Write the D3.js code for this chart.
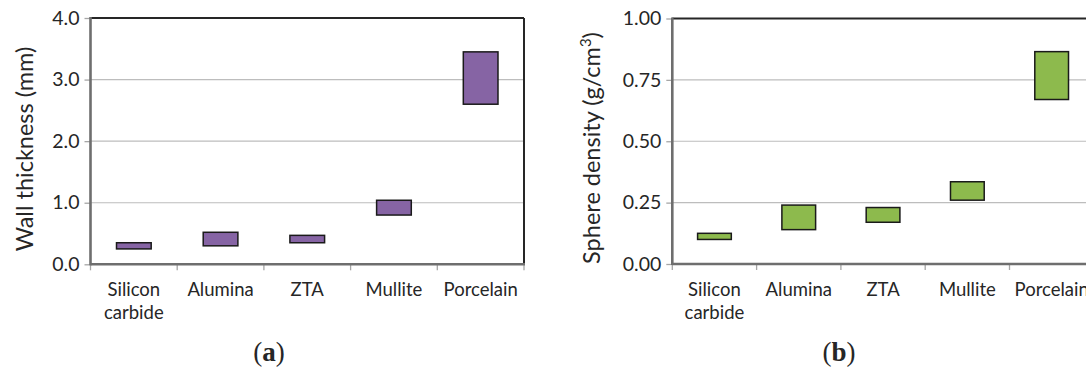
<!DOCTYPE html>
<html>
<head>
<meta charset="utf-8">
<script src="https://cdn.jsdelivr.net/npm/d3@7"></script>
<style>
  html, body { margin: 0; padding: 0; background: #fff; }
  svg { display: block; }
  text { font-family: Lato, "Open Sans", sans-serif; fill: #262626; }
</style>
</head>
<body>
<svg id="chart" width="1086" height="369"></svg>
<script>
// Ceramic sphere properties: ranges (min–max) per material
const categories = ["Silicon carbide", "Alumina", "ZTA", "Mullite", "Porcelain"];

// (a) wall thickness, mm
const wallMin = [0.25, 0.30, 0.35, 0.80, 2.60];
const wallMax = [0.35, 0.52, 0.47, 1.04, 3.45];
const wallTicks = [0, 1, 2, 3, 4];

// (b) sphere density, g/cm3
const densMin = [0.10, 0.14, 0.17, 0.26, 0.67];
const densMax = [0.125, 0.24, 0.23, 0.335, 0.865];
const densTicks = [0, 0.25, 0.5, 0.75, 1.0];

const svg = d3.select("#chart");

function drawPanel(opts) {
  const g = svg.append("g");
  const x = d3.scaleBand().domain(categories).range([opts.left, opts.right]).padding(0);
  const y = d3.scaleLinear().domain([0, opts.max]).range([opts.bottom, opts.top]);

  // gridlines
  g.append("g").selectAll("line").data(opts.ticks.slice(1)).join("line")
    .attr("x1", opts.left).attr("x2", opts.right)
    .attr("y1", d => y(d)).attr("y2", d => y(d))
    .attr("stroke", "#bdbdbd").attr("stroke-width", 1.2);

  // y axis ticks + labels
  const yAxis = g.append("g").attr("transform", `translate(${opts.left},0)`)
    .call(d3.axisLeft(y).tickValues(opts.ticks).tickFormat(d3.format(opts.fmt)).tickSize(6).tickPadding(5));
  yAxis.select(".domain").remove();
  yAxis.selectAll(".tick line").attr("stroke", "#a6a6a6").attr("stroke-width", 1.3);
  yAxis.selectAll(".tick text").attr("font-size", 19.5).attr("font-family", "Lato").attr("fill", "#262626");

  // category boundary ticks on x axis
  const bounds = categories.map(c => x(c)).concat([x.range()[1]]);
  g.append("g").selectAll("line").data(bounds).join("line")
    .attr("x1", d => d).attr("x2", d => d)
    .attr("y1", opts.bottom).attr("y2", opts.bottom + 6)
    .attr("stroke", "#a6a6a6").attr("stroke-width", 1.3);

  // plot frame: dark top/right, grey axes left/bottom
  g.append("line").attr("x1", opts.left).attr("x2", opts.right)
    .attr("y1", opts.top).attr("y2", opts.top)
    .attr("stroke", "#262626").attr("stroke-width", 2);
  g.append("line").attr("x1", opts.right).attr("x2", opts.right)
    .attr("y1", opts.top).attr("y2", opts.bottom)
    .attr("stroke", "#262626").attr("stroke-width", 2);
  g.append("line").attr("x1", opts.left).attr("x2", opts.left)
    .attr("y1", opts.top - 1).attr("y2", opts.bottom + 1)
    .attr("stroke", "#6e6e6e").attr("stroke-width", 2.6);
  g.append("line").attr("x1", opts.left).attr("x2", opts.right + 1)
    .attr("y1", opts.bottom).attr("y2", opts.bottom)
    .attr("stroke", "#6e6e6e").attr("stroke-width", 2.4);

  // floating range bars
  const bw = x.bandwidth() * 0.4;
  g.append("g").selectAll("rect").data(categories).join("rect")
    .attr("x", d => x(d) + (x.bandwidth() - bw) / 2)
    .attr("width", bw)
    .attr("y", (d, i) => y(opts.hi[i]))
    .attr("height", (d, i) => y(opts.lo[i]) - y(opts.hi[i]))
    .attr("fill", opts.color)
    .attr("stroke", "#1a1a1a").attr("stroke-width", 1.5);

  // category labels (wrapped on spaces)
  const lab = g.append("g").selectAll("text").data(categories).join("text")
    .attr("x", d => x(d) + x.bandwidth() / 2)
    .attr("y", opts.bottom + 32)
    .attr("text-anchor", "middle")
    .attr("font-size", 18.5);
  lab.each(function (d) {
    const words = d.split(" ");
    d3.select(this).selectAll("tspan").data(words).join("tspan")
      .attr("x", x(d) + x.bandwidth() / 2)
      .attr("dy", (w, i) => i === 0 ? 0 : 23)
      .text(w => w);
  });

  // y axis title
  const title = g.append("text")
    .attr("transform", `translate(${opts.titleX},${opts.titleY}) rotate(-90)`)
    .attr("text-anchor", "middle")
    .attr("font-size", 23.5);
  opts.title(title);

  // panel letter
  const pl = g.append("text")
    .attr("x", opts.letterX).attr("y", 361)
    .attr("text-anchor", "middle")
    .attr("font-size", 27).style("font-family", "'Liberation Serif', serif");
  pl.append("tspan").text("(");
  pl.append("tspan").attr("font-weight", "bold").text(opts.letter);
  pl.append("tspan").text(")");
}

drawPanel({
  left: 90.5, right: 524, top: 18, bottom: 264.3, max: 4,
  ticks: wallTicks, fmt: ".1f", lo: wallMin, hi: wallMax, color: "#8664a4",
  titleX: 33, titleY: 149,
  title: t => t.text("Wall thickness (mm)"),
  letter: "a", letterX: 269
});

drawPanel({
  left: 672.3, right: 672.3 + 84.3 * 5, top: 18.5, bottom: 264, max: 1,
  ticks: densTicks, fmt: ".2f", lo: densMin, hi: densMax, color: "#8dba4d",
  titleX: 600, titleY: 148,
  title: t => {
    t.append("tspan").text("Sphere density (g/cm");
    t.append("tspan").attr("font-size", 15).attr("dy", -9).text("3");
    t.append("tspan").attr("dy", 9).text(")");
  },
  letter: "b", letterX: 839
});
</script>
</body>
</html>
